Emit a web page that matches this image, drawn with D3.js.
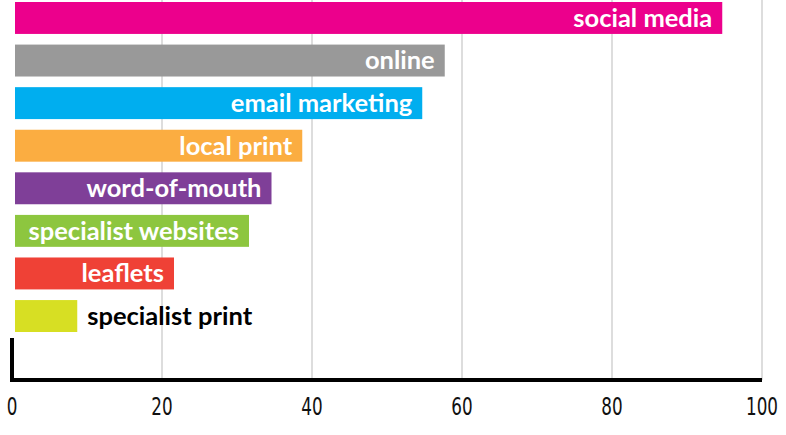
<!DOCTYPE html>
<html>
<head>
<meta charset="utf-8">
<script src="https://cdn.jsdelivr.net/npm/d3@7"></script>
<style>
  body { margin: 0; background: #fff; }
  .bar-label { font-family: Lato, "Open Sans", sans-serif; font-weight: 700; font-size: 25.5px; }
  .tick-label { font-family: "DejaVu Sans", sans-serif; font-size: 24px; fill: #111; }
</style>
</head>
<body>
<svg id="chart"></svg>
<script>
const WIDTH = 786;
const HEIGHT = 435;

// channels, top to bottom
const channels = ['social media', 'online', 'email marketing', 'local print',
  'word-of-mouth', 'specialist websites', 'leaflets', 'specialist print'];
const shares = [94.7, 57.7, 54.7, 38.7, 34.6, 31.6, 21.6, 8.7];
const barColors = ['#ec008c', '#999999', '#00aeef', '#fbad41',
  '#7f3f98', '#8dc63f', '#ef4136', '#d7df23'];
const ticks = [0, 20, 40, 60, 80, 100];

const AXIS_Y = 380;
const PAD = 10;

const rows = channels.map((c, i) => ({ name: c, value: shares[i], color: barColors[i] }));

const svg = d3.select('#chart').attr('width', WIDTH).attr('height', HEIGHT);

const x = d3.scaleLinear().domain([0, 100]).range([12, 762]);
const y = d3.scaleBand().domain(channels).range([2, 332]).paddingInner(0.25).paddingOuter(0);

// gridlines
svg.append('g')
  .selectAll('line')
  .data(ticks.slice(1))
  .join('line')
  .attr('x1', d => x(d))
  .attr('x2', d => x(d))
  .attr('y1', 0)
  .attr('y2', AXIS_Y)
  .attr('stroke', '#bbbbbb')
  .attr('stroke-width', 1);

// bars
const bars = svg.append('g')
  .selectAll('.bar')
  .data(rows)
  .join('g')
  .attr('class', 'bar')
  .attr('transform', d => 'translate(0,' + y(d.name) + ')');

bars.append('rect')
  .attr('x', x(0) + 3)
  .attr('width', d => x(d.value) - x(0) - 3)
  .attr('height', y.bandwidth())
  .attr('fill', d => d.color);

bars.append('text')
  .attr('class', 'bar-label')
  .attr('y', y.bandwidth() / 2)
  .attr('dy', '0.35em')
  .text(d => d.name)
  .each(function (d) {
    const w = this.getComputedTextLength();
    const barW = x(d.value) - x(0) - 3;
    const inside = w + 2 * PAD <= barW;
    d3.select(this)
      .attr('x', inside ? x(d.value) - PAD : x(d.value) + PAD)
      .attr('text-anchor', inside ? 'end' : 'start')
      .attr('fill', inside ? '#fff' : '#000');
  });

// axis
svg.append('line')
  .attr('x1', 10).attr('x2', x(100))
  .attr('y1', AXIS_Y).attr('y2', AXIS_Y)
  .attr('stroke', '#000').attr('stroke-width', 4);

svg.append('line')
  .attr('x1', x(0)).attr('x2', x(0))
  .attr('y1', 338).attr('y2', AXIS_Y + 2)
  .attr('stroke', '#000').attr('stroke-width', 4);

// tick labels, squeezed to the narrow look of the original
svg.append('g')
  .selectAll('text')
  .data(ticks)
  .join('text')
  .attr('class', 'tick-label')
  .attr('transform', d => 'translate(' + x(d) + ',407) scale(0.7,1)')
  .attr('dy', '0.35em')
  .attr('text-anchor', 'middle')
  .text(d => d);
</script>
</body>
</html>
